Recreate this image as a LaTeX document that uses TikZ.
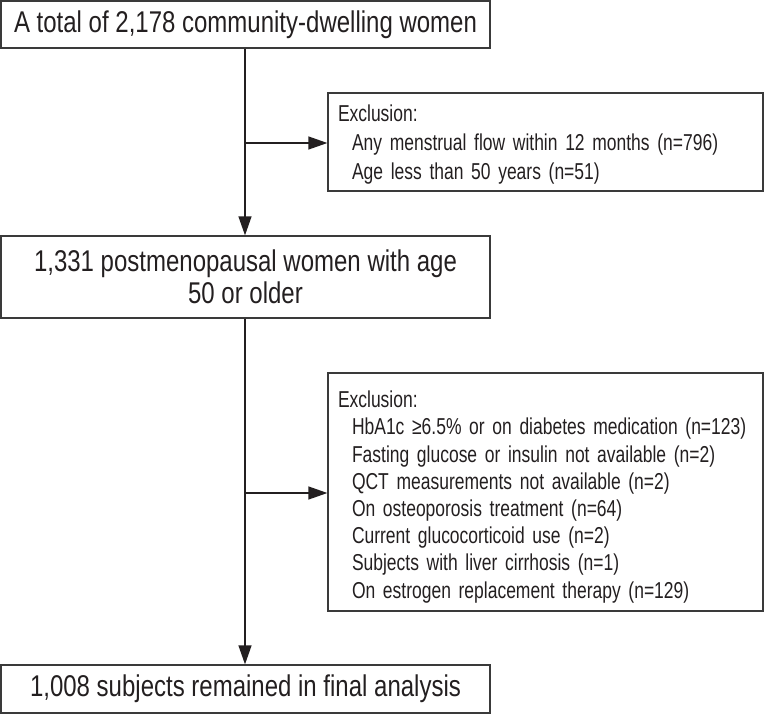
\documentclass[tikz,border=0pt]{standalone}
\usepackage{fontspec}
\setmainfont{Liberation Sans}[FakeStretch=0.8]
\newfontfamily\exfont{Liberation Sans}[FakeStretch=0.76,WordSpace=0.7]
\usetikzlibrary{arrows.meta}
\definecolor{linec}{HTML}{3A3A3A}
\definecolor{txtc}{HTML}{231F20}
\tikzset{
  mainbox/.style={draw=linec, line width=1.3pt, text=txtc, align=center, inner sep=0pt,
    font=\fontsize{30}{32}\selectfont},
  exbox/.style={draw=linec, line width=1.3pt, text=txtc, align=left, inner xsep=10pt, inner ysep=0pt,
    text width=415pt},
  flow/.style={draw=txtc, line width=1.3pt, -{Triangle[length=19pt,width=13pt]}}
}
\newcommand{\ind}{\hspace*{14pt}}
\begin{document}
\begin{tikzpicture}[x=1pt,y=-1pt]
\useasboundingbox (0,0) rectangle (764,715);
\node[mainbox, minimum width=489pt, minimum height=47pt] (b1) at (245.5,24.5)
  {A total of 2,178 community-dwelling women};
\node[exbox, minimum height=98pt, font=\exfont\fontsize{23}{29}\selectfont] (ex1) at (545.5,142)
  {Exclusion:\\ \ind Any menstrual flow within 12 months (n=796)\\ \ind Age less than 50 years (n=51)\vspace{-6pt}};
\node[mainbox, minimum width=489pt, minimum height=82pt] (b2) at (245.5,277)
  {1,331 postmenopausal women with age\\ 50 or older};
\node[exbox, minimum height=238pt, font=\exfont\fontsize{23}{27.2}\selectfont] (ex2) at (545.5,492)
  {Exclusion:\\
   \ind HbA1c ≥6.5\% or on diabetes medication (n=123)\\
   \ind Fasting glucose or insulin not available (n=2)\\
   \ind QCT measurements not available (n=2)\\
   \ind On osteoporosis treatment (n=64)\\
   \ind Current glucocorticoid use (n=2)\\
   \ind Subjects with liver cirrhosis (n=1)\\
   \ind On estrogen replacement therapy (n=129)\vspace{-10pt}};
\node[mainbox, minimum width=489pt, minimum height=48pt] (b3) at (245.5,689)
  {1,008 subjects remained in final analysis};
\coordinate (j1) at (245,143);
\coordinate (j2) at (245,493);
\draw[flow] (b1.south -| j1) -- (b2.north -| j1);
\draw[flow] (j1) -- (j1 -| ex1.west);
\draw[flow] (b2.south -| j2) -- (b3.north -| j2);
\draw[flow] (j2) -- (j2 -| ex2.west);
\end{tikzpicture}
\end{document}
